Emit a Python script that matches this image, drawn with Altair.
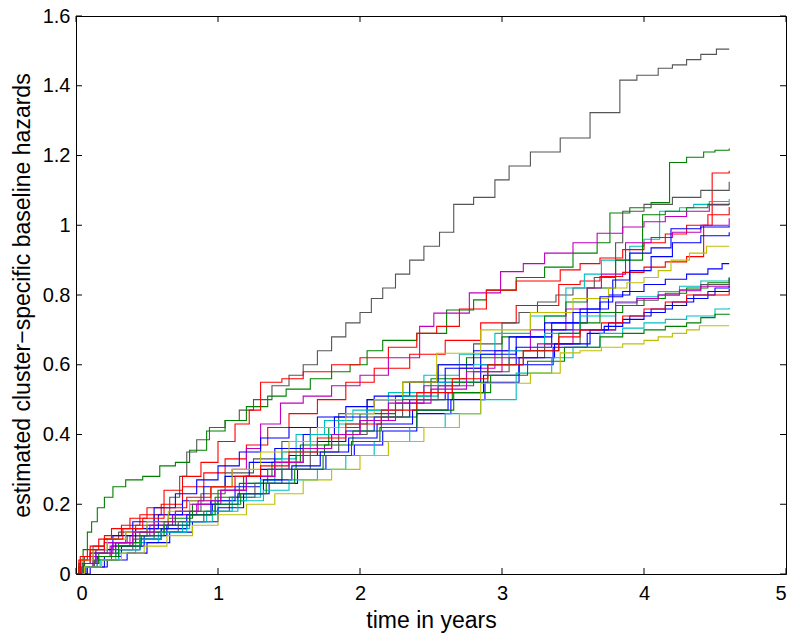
import altair as alt
import pandas as pd

# ---- data (time in years, estimated cumulative hazard) ----
C01_T = [0, 0.02, 0.06, 0.12, 0.2, 0.3, 0.42, 0.55, 0.66, 0.73, 0.78, 0.85, 0.94, 1.05, 1.15, 1.25, 1.38, 1.5, 1.6, 1.7, 1.8, 1.9, 2.0, 2.08, 2.16, 2.25, 2.35, 2.45, 2.56, 2.66, 2.8, 2.95, 3.05, 3.2, 3.41, 3.62, 3.83, 3.95, 4.1, 4.2, 4.3, 4.4, 4.51, 4.6]
C01_V = [0, 0.02, 0.05, 0.08, 0.1, 0.12, 0.14, 0.17, 0.22, 0.28, 0.35, 0.385, 0.42, 0.44, 0.47, 0.5, 0.54, 0.57, 0.6, 0.64, 0.68, 0.72, 0.75, 0.79, 0.82, 0.86, 0.9, 0.94, 0.98, 1.06, 1.08, 1.13, 1.17, 1.21, 1.25, 1.323, 1.416, 1.43, 1.45, 1.46, 1.475, 1.49, 1.505, 1.505]

C02_T = [0, 0.02, 0.05, 0.08, 0.11, 0.15, 0.2, 0.26, 0.35, 0.47, 0.59, 0.7, 0.8, 0.92, 1.05, 1.2, 1.35, 1.48, 1.65, 1.8, 1.93, 2.05, 2.16, 2.4, 2.61, 2.8, 2.89, 3.1, 3.3, 3.5, 3.67, 3.76, 3.9, 4.05, 4.18, 4.3, 4.42, 4.5, 4.6]
C02_V = [0, 0.03, 0.07, 0.12, 0.15, 0.19, 0.22, 0.25, 0.27, 0.28, 0.31, 0.32, 0.355, 0.41, 0.44, 0.48, 0.51, 0.53, 0.56, 0.58, 0.6, 0.64, 0.67, 0.69, 0.757, 0.786, 0.814, 0.85, 0.88, 0.92, 0.95, 1.035, 1.05, 1.065, 1.18, 1.195, 1.21, 1.215, 1.22]

C03_T = [0, 0.03, 0.1, 0.2, 0.32, 0.45, 0.6, 0.75, 0.9, 1.05, 1.2, 1.35, 1.5, 1.7, 1.9, 2.1, 2.35, 2.6, 2.85, 3.1, 3.4, 3.55, 3.69, 3.85, 4.0, 4.15, 4.3, 4.42, 4.48, 4.6]
C03_V = [0, 0.05, 0.08, 0.11, 0.14, 0.17, 0.2, 0.25, 0.29, 0.33, 0.37, 0.42, 0.46, 0.5, 0.55, 0.59, 0.63, 0.67, 0.72, 0.77, 0.83, 0.84, 0.853, 0.865, 0.88, 0.895, 0.91, 1.0, 1.15, 1.156]

C04_T = [0, 0.04, 0.12, 0.25, 0.4, 0.55, 0.7, 0.88, 1.05, 1.25, 1.45, 1.65, 1.85, 2.05, 2.3, 2.55, 2.8, 3.0, 3.12, 3.25, 3.38, 3.5, 3.65, 3.8, 3.85, 4.0, 4.2, 4.4, 4.6]
C04_V = [0, 0.02, 0.05, 0.08, 0.11, 0.14, 0.18, 0.23, 0.29, 0.33, 0.38, 0.42, 0.46, 0.5, 0.55, 0.6, 0.66, 0.72, 0.75, 0.78, 0.8, 0.82, 0.85, 0.95, 1.04, 1.06, 1.08, 1.1, 1.125]

C05_T = [0, 0.05, 0.15, 0.3, 0.45, 0.6, 0.8, 1.0, 1.2, 1.4, 1.55, 1.75, 1.95, 2.2, 2.45, 2.7, 2.95, 3.2, 3.45, 3.58, 3.7, 3.9, 4.0, 4.11, 4.25, 4.35, 4.46, 4.6]
C05_V = [0, 0.02, 0.04, 0.07, 0.1, 0.13, 0.17, 0.21, 0.26, 0.33, 0.4, 0.44, 0.47, 0.52, 0.57, 0.63, 0.69, 0.74, 0.82, 0.86, 0.9, 0.94, 0.96, 1.04, 1.05, 1.06, 1.068, 1.075]

C06_T = [0, 0.03, 0.1, 0.22, 0.36, 0.5, 0.65, 0.82, 1.0, 1.18, 1.38, 1.58, 1.78, 2.0, 2.25, 2.5, 2.75, 3.0, 3.3, 3.45, 3.6, 3.8, 3.99, 4.15, 4.3, 4.45, 4.6]
C06_V = [0, 0.03, 0.06, 0.09, 0.11, 0.13, 0.16, 0.2, 0.24, 0.28, 0.32, 0.37, 0.42, 0.46, 0.51, 0.56, 0.62, 0.68, 0.74, 0.78, 0.82, 0.9, 1.03, 1.04, 1.05, 1.06, 1.065]

C07_T = [0, 0.03, 0.1, 0.2, 0.35, 0.5, 0.65, 0.8, 0.95, 1.1, 1.2, 1.3, 1.44, 1.6, 1.8, 2.0, 2.2, 2.42, 2.52, 2.77, 2.99, 3.15, 3.3, 3.5, 3.67, 3.85, 4.0, 4.15, 4.3, 4.46, 4.6]
C07_V = [0, 0.03, 0.06, 0.09, 0.12, 0.14, 0.17, 0.2, 0.25, 0.3, 0.36, 0.43, 0.49, 0.51, 0.54, 0.57, 0.62, 0.71, 0.748, 0.806, 0.867, 0.89, 0.92, 0.95, 0.977, 0.995, 1.01, 1.025, 1.04, 1.058, 1.058]

C08_T = [0, 0.02, 0.08, 0.16, 0.25, 0.38, 0.5, 0.62, 0.75, 0.88, 1.0, 1.12, 1.22, 1.3, 1.45, 1.6, 1.8, 2.0, 2.2, 2.4, 2.54, 2.7, 2.89, 3.1, 3.41, 3.55, 3.69, 3.85, 4.0, 4.15, 4.3, 4.45, 4.6]
C08_V = [0, 0.04, 0.07, 0.1, 0.13, 0.16, 0.19, 0.24, 0.28, 0.32, 0.38, 0.43, 0.47, 0.55, 0.56, 0.58, 0.6, 0.62, 0.65, 0.69, 0.71, 0.76, 0.814, 0.84, 0.872, 0.89, 0.906, 0.93, 0.95, 0.975, 1.0, 1.03, 1.052]

C09_T = [0, 0.04, 0.12, 0.24, 0.38, 0.52, 0.68, 0.85, 1.02, 1.2, 1.4, 1.6, 1.8, 2.0, 2.2, 2.45, 2.7, 2.95, 3.2, 3.45, 3.6, 3.7, 3.87, 4.05, 4.2, 4.4, 4.6]
C09_V = [0, 0.02, 0.05, 0.08, 0.11, 0.14, 0.17, 0.2, 0.24, 0.28, 0.32, 0.36, 0.4, 0.44, 0.49, 0.54, 0.59, 0.64, 0.7, 0.76, 0.82, 0.86, 0.95, 0.965, 0.98, 1.0, 1.02]

C10_T = [0, 0.06, 0.15, 0.28, 0.42, 0.58, 0.75, 0.9, 1.05, 1.22, 1.4, 1.6, 1.82, 2.05, 2.3, 2.55, 2.8, 3.05, 3.3, 3.55, 3.69, 3.78, 3.9, 4.05, 4.19, 4.4, 4.6]
C10_V = [0, 0.02, 0.05, 0.09, 0.13, 0.17, 0.21, 0.25, 0.28, 0.32, 0.36, 0.4, 0.45, 0.5, 0.55, 0.6, 0.64, 0.68, 0.72, 0.76, 0.78, 0.843, 0.92, 0.935, 0.99, 0.995, 0.998]

C11_T = [0, 0.05, 0.14, 0.26, 0.4, 0.55, 0.7, 0.85, 1.0, 1.15, 1.3, 1.5, 1.7, 1.9, 2.1, 2.35, 2.6, 2.85, 3.1, 3.35, 3.6, 3.75, 3.9, 4.05, 4.2, 4.4, 4.6]
C11_V = [0, 0.03, 0.07, 0.11, 0.15, 0.19, 0.23, 0.27, 0.31, 0.35, 0.39, 0.42, 0.45, 0.48, 0.51, 0.55, 0.59, 0.63, 0.68, 0.72, 0.76, 0.8, 0.87, 0.91, 0.95, 0.97, 0.98]

C12_T = [0, 0.04, 0.12, 0.22, 0.35, 0.5, 0.65, 0.8, 0.95, 1.1, 1.3, 1.5, 1.7, 1.9, 2.1, 2.3, 2.54, 2.85, 3.2, 3.5, 3.75, 3.88, 4.0, 4.1, 4.19, 4.32, 4.44, 4.6]
C12_V = [0, 0.04, 0.07, 0.1, 0.12, 0.15, 0.18, 0.21, 0.25, 0.3, 0.35, 0.38, 0.42, 0.46, 0.5, 0.55, 0.633, 0.7, 0.75, 0.79, 0.82, 0.835, 0.85, 0.87, 0.9, 0.92, 0.94, 0.94]

C13_T = [0, 0.07, 0.18, 0.3, 0.45, 0.6, 0.78, 0.95, 1.12, 1.3, 1.5, 1.7, 1.9, 2.1, 2.35, 2.6, 2.85, 3.1, 3.35, 3.5, 3.69, 3.85, 4.0, 4.15, 4.3, 4.45, 4.55, 4.6]
C13_V = [0, 0.02, 0.04, 0.07, 0.1, 0.13, 0.17, 0.21, 0.25, 0.3, 0.34, 0.38, 0.41, 0.45, 0.5, 0.55, 0.6, 0.65, 0.7, 0.75, 0.795, 0.81, 0.83, 0.845, 0.86, 0.875, 0.89, 0.89]

C14_T = [0, 0.05, 0.15, 0.28, 0.42, 0.58, 0.75, 0.92, 1.1, 1.3, 1.45, 1.65, 1.85, 2.05, 2.3, 2.55, 2.8, 3.05, 3.3, 3.55, 3.8, 3.95, 4.1, 4.25, 4.4, 4.6]
C14_V = [0, 0.02, 0.04, 0.06, 0.09, 0.12, 0.15, 0.18, 0.22, 0.27, 0.35, 0.4, 0.43, 0.47, 0.51, 0.55, 0.6, 0.64, 0.69, 0.74, 0.777, 0.795, 0.81, 0.825, 0.84, 0.851]

C15_T = [0, 0.06, 0.16, 0.3, 0.45, 0.62, 0.8, 0.98, 1.15, 1.35, 1.55, 1.75, 1.95, 2.15, 2.4, 2.65, 2.9, 3.15, 3.4, 3.55, 3.69, 3.85, 4.0, 4.15, 4.3, 4.45, 4.6]
C15_V = [0, 0.03, 0.06, 0.09, 0.12, 0.15, 0.18, 0.22, 0.26, 0.3, 0.34, 0.37, 0.41, 0.45, 0.5, 0.55, 0.6, 0.64, 0.69, 0.72, 0.75, 0.77, 0.79, 0.805, 0.82, 0.835, 0.85]

C16_T = [0, 0.04, 0.13, 0.25, 0.4, 0.55, 0.72, 0.9, 1.08, 1.26, 1.45, 1.65, 1.85, 2.05, 2.3, 2.55, 2.8, 3.05, 3.3, 3.55, 3.8, 3.95, 4.1, 4.25, 4.4, 4.6]
C16_V = [0, 0.02, 0.04, 0.07, 0.1, 0.12, 0.15, 0.18, 0.22, 0.26, 0.3, 0.35, 0.4, 0.45, 0.5, 0.54, 0.58, 0.62, 0.66, 0.7, 0.77, 0.785, 0.8, 0.815, 0.83, 0.847]

C17_T = [0, 0.05, 0.14, 0.26, 0.4, 0.55, 0.7, 0.86, 1.02, 1.2, 1.4, 1.6, 1.8, 2.0, 2.25, 2.5, 2.75, 3.0, 3.25, 3.5, 3.8, 3.95, 4.1, 4.25, 4.4, 4.6]
C17_V = [0, 0.03, 0.06, 0.09, 0.12, 0.15, 0.18, 0.21, 0.24, 0.28, 0.32, 0.36, 0.4, 0.44, 0.49, 0.53, 0.58, 0.62, 0.66, 0.7, 0.78, 0.79, 0.8, 0.812, 0.825, 0.832]

C18_T = [0, 0.08, 0.2, 0.32, 0.48, 0.64, 0.8, 0.96, 1.14, 1.32, 1.52, 1.72, 1.92, 2.12, 2.37, 2.62, 2.87, 3.12, 3.37, 3.62, 3.75, 3.9, 4.05, 4.2, 4.35, 4.5, 4.6]
C18_V = [0, 0.02, 0.05, 0.08, 0.11, 0.14, 0.17, 0.2, 0.23, 0.27, 0.31, 0.35, 0.39, 0.43, 0.47, 0.52, 0.57, 0.62, 0.66, 0.7, 0.72, 0.74, 0.76, 0.78, 0.8, 0.82, 0.826]

C19_T = [0, 0.1, 0.22, 0.36, 0.5, 0.66, 0.82, 1.0, 1.18, 1.36, 1.56, 1.76, 1.96, 2.16, 2.4, 2.64, 2.88, 3.12, 3.36, 3.6, 3.72, 3.85, 4.0, 4.15, 4.3, 4.45, 4.6]
C19_V = [0, 0.02, 0.04, 0.06, 0.09, 0.12, 0.15, 0.19, 0.23, 0.26, 0.3, 0.34, 0.37, 0.41, 0.46, 0.5, 0.55, 0.6, 0.65, 0.69, 0.71, 0.73, 0.75, 0.77, 0.79, 0.81, 0.817]

C20_T = [0, 0.03, 0.1, 0.2, 0.33, 0.47, 0.62, 0.78, 0.95, 1.12, 1.3, 1.5, 1.7, 1.9, 2.15, 2.4, 2.65, 2.9, 3.15, 3.4, 3.55, 3.7, 3.85, 4.0, 4.15, 4.3, 4.6]
C20_V = [0, 0.04, 0.07, 0.1, 0.13, 0.16, 0.19, 0.22, 0.25, 0.28, 0.31, 0.35, 0.39, 0.43, 0.47, 0.52, 0.56, 0.6, 0.64, 0.68, 0.7, 0.72, 0.74, 0.76, 0.78, 0.8, 0.81]

C21_T = [0, 0.06, 0.17, 0.3, 0.45, 0.6, 0.78, 0.96, 1.14, 1.32, 1.5, 1.7, 1.9, 2.1, 2.35, 2.6, 2.85, 3.1, 3.35, 3.5, 3.69, 3.85, 4.0, 4.15, 4.3, 4.5, 4.6]
C21_V = [0, 0.02, 0.04, 0.07, 0.1, 0.12, 0.15, 0.18, 0.21, 0.24, 0.27, 0.3, 0.34, 0.38, 0.42, 0.46, 0.5, 0.576, 0.62, 0.65, 0.69, 0.705, 0.72, 0.73, 0.74, 0.76, 0.763]

C22_T = [0, 0.05, 0.16, 0.3, 0.46, 0.62, 0.8, 0.98, 1.16, 1.34, 1.54, 1.74, 1.94, 2.14, 2.4, 2.66, 2.92, 3.18, 3.44, 3.69, 3.85, 4.0, 4.15, 4.3, 4.4, 4.5, 4.6]
C22_V = [0, 0.03, 0.05, 0.08, 0.11, 0.14, 0.17, 0.2, 0.23, 0.26, 0.3, 0.34, 0.38, 0.42, 0.47, 0.52, 0.57, 0.61, 0.65, 0.68, 0.69, 0.7, 0.71, 0.72, 0.735, 0.745, 0.746]

C23_T = [0, 0.06, 0.18, 0.32, 0.48, 0.64, 0.82, 1.0, 1.2, 1.4, 1.6, 1.8, 2.0, 2.2, 2.45, 2.7, 2.85, 3.2, 3.41, 3.55, 3.7, 3.85, 4.0, 4.1, 4.2, 4.3, 4.39, 4.6]
C23_V = [0, 0.02, 0.04, 0.06, 0.08, 0.11, 0.14, 0.17, 0.2, 0.23, 0.27, 0.3, 0.34, 0.38, 0.42, 0.46, 0.547, 0.576, 0.634, 0.64, 0.65, 0.66, 0.67, 0.68, 0.69, 0.7, 0.712, 0.712]

# MATLAB-style line colours, one per curve
GRAY, GREEN, RED, CYAN, MAGENTA, BLUE, YELLOW = "#555555", "#008000", "#ff0000", "#00bfbf", "#bf00bf", "#0000ff", "#bfbf00"
CURVE_COLORS = [GRAY, GREEN, RED, GRAY, CYAN, GREEN, MAGENTA, RED, MAGENTA, BLUE, BLUE, YELLOW,
                BLUE, CYAN, GREEN, GRAY, MAGENTA, BLUE, BLUE, RED, CYAN, GREEN, YELLOW]

X_TICKS = [0, 1, 2, 3, 4, 5]
Y_TICKS = [0, 0.2, 0.4, 0.6, 0.8, 1.0, 1.2, 1.4, 1.6]
X_TITLE = "time in years"
Y_TITLE = "estimated cluster\u2212specific baseline hazards"

CURVES = [(C01_T, C01_V), (C02_T, C02_V), (C03_T, C03_V), (C04_T, C04_V), (C05_T, C05_V),
          (C06_T, C06_V), (C07_T, C07_V), (C08_T, C08_V), (C09_T, C09_V), (C10_T, C10_V),
          (C11_T, C11_V), (C12_T, C12_V), (C13_T, C13_V), (C14_T, C14_V), (C15_T, C15_V),
          (C16_T, C16_V), (C17_T, C17_V), (C18_T, C18_V), (C19_T, C19_V), (C20_T, C20_V),
          (C21_T, C21_V), (C22_T, C22_V), (C23_T, C23_V)]

rows = []
ids = []
for i, (T, V) in enumerate(CURVES):
    cid = f"c{i + 1:02d}"
    ids.append(cid)
    for t, v in zip(T, V):
        rows.append({"curve": cid, "t": t, "v": v})
df = pd.DataFrame(rows)

W, H = 710, 558
FONT = "Liberation Sans"
xs = alt.Scale(domain=[0, 5], nice=False, zero=False)
ys = alt.Scale(domain=[0, 1.6], nice=False, zero=False)
AX = alt.Axis(values=X_TICKS, format="~g", title=X_TITLE, labelPadding=9, titlePadding=6)
AY = alt.Axis(values=Y_TICKS, format="~g", title=Y_TITLE, labelPadding=6, titlePadding=8)

lines = alt.Chart(df).mark_line(interpolate="step-after", strokeWidth=1.1, clip=True).encode(
    x=alt.X("t:Q", scale=xs, axis=AX),
    y=alt.Y("v:Q", scale=ys, axis=AY),
    color=alt.Color("curve:N", scale=alt.Scale(domain=ids, range=CURVE_COLORS), legend=None),
    order=alt.Order("t:Q"),
)

xt = pd.DataFrame({"t": X_TICKS})
yt = pd.DataFrame({"v": Y_TICKS})
TL = 6
tick_b = alt.Chart(xt).mark_rule(color="black", strokeWidth=1).encode(
    x=alt.X("t:Q", scale=xs, axis=AX), y=alt.value(H), y2=alt.value(H - TL))
tick_t = alt.Chart(xt).mark_rule(color="black", strokeWidth=1).encode(
    x=alt.X("t:Q", scale=xs, axis=AX), y=alt.value(0), y2=alt.value(TL))
tick_l = alt.Chart(yt).mark_rule(color="black", strokeWidth=1).encode(
    y=alt.Y("v:Q", scale=ys, axis=AY), x=alt.value(0), x2=alt.value(TL))
tick_r = alt.Chart(yt).mark_rule(color="black", strokeWidth=1).encode(
    y=alt.Y("v:Q", scale=ys, axis=AY), x=alt.value(W), x2=alt.value(W - TL))

chart = alt.layer(lines, tick_b, tick_t, tick_l, tick_r).properties(
    width=W, height=H,
    padding={"left": 68, "top": 8, "right": 6, "bottom": 59},
    autosize=alt.AutoSizeParams(type="none"),
    background="white",
).configure_view(
    stroke="#000000", strokeWidth=1
).configure_axis(
    domain=False, ticks=False, grid=False,
    labelFont=FONT, labelFontSize=20, labelColor="#000000",
    titleFont=FONT, titleFontSize=23, titleFontWeight="normal", titleColor="#000000",
)

chart.save("out.html", embed_options={"renderer": "svg", "actions": False})
